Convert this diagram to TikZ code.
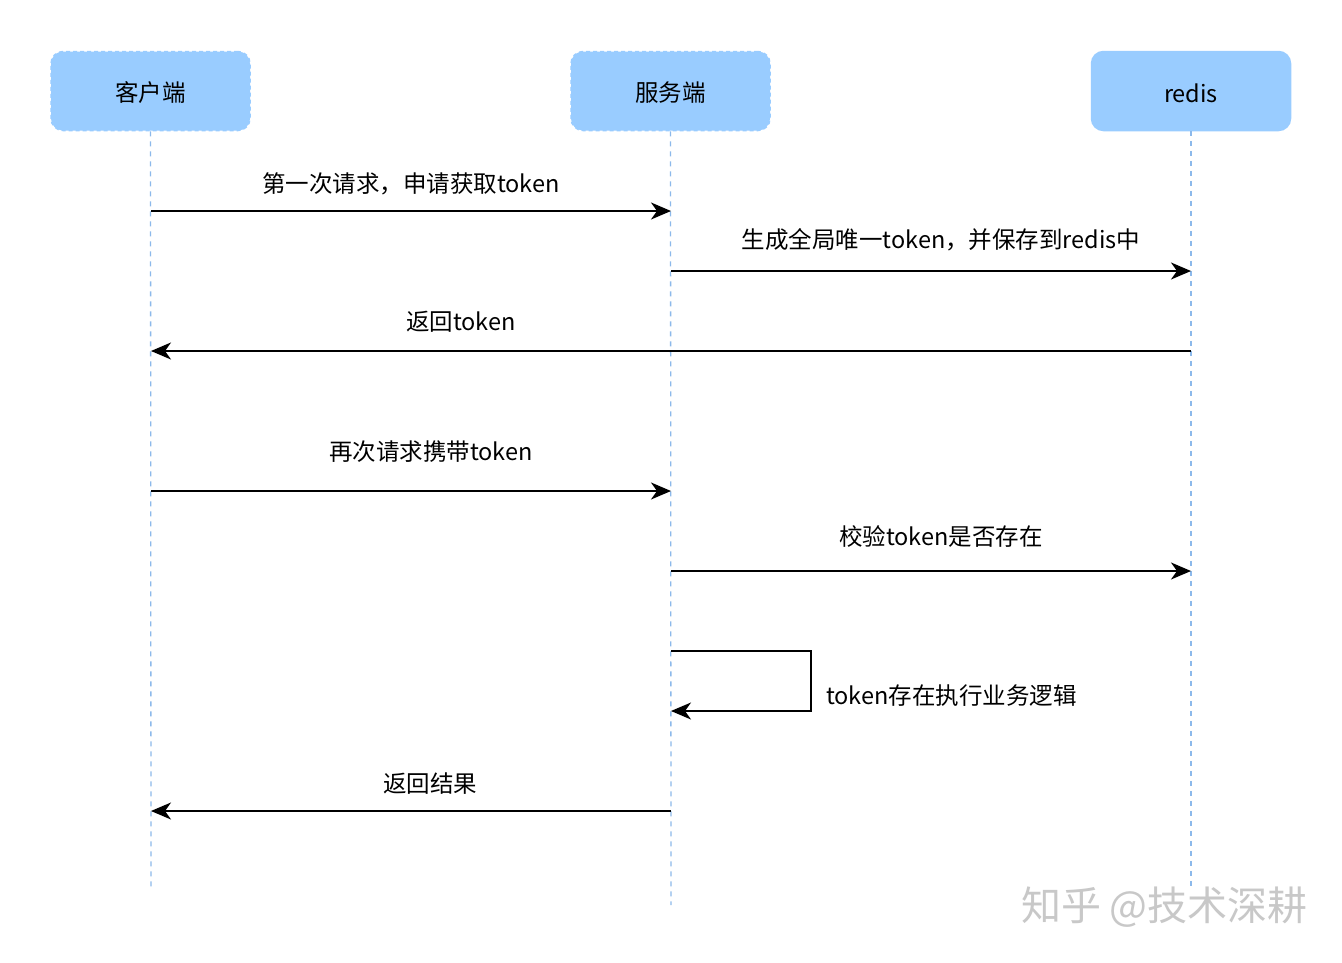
\documentclass[tikz,border=0pt]{standalone}
\usepackage{fontspec}
\setmainfont{Noto Sans CJK SC}
\usetikzlibrary{arrows.meta}
\definecolor{boxblue}{RGB}{153,204,255}
\definecolor{lifeblue}{RGB}{140,185,235}
\definecolor{wmgray}{RGB}{200,200,200}
\tikzset{
  actor/.style={draw=boxblue, fill=boxblue, rounded corners=12pt, minimum width=199pt, minimum height=79pt, font=\fontsize{23.5}{28}\selectfont, line width=1.5pt},
  dashedactor/.style={actor, dashed, dash pattern=on 4pt off 3pt},
  actorlbl/.style={font=\fontsize{23.5}{28}\selectfont, inner sep=0pt},
  lifeline/.style={draw=lifeblue, line width=1.3pt, dash pattern=on 5pt off 5pt},
  msg/.style={draw=black, line width=1.7pt, -{Stealth[length=20pt,width=17pt,inset=6pt]}},
  lbl/.style={font=\fontsize{23.5}{28}\selectfont, inner sep=0pt},
}
\begin{document}
\begin{tikzpicture}[x=1pt,y=-1pt]
\useasboundingbox (0,0) rectangle (1342,962);
\fill[white] (0,0) rectangle (1342,962);
% actors
\node[dashedactor] (c) at (150.5,91) {};
\node[dashedactor] (s) at (670.5,91) {};
\node[actor] (r) at (1191,91) {};
\node[actorlbl] (ct) at (150.5,93) {客户端};
\node[actorlbl] (st) at (670.5,93) {服务端};
\node[actorlbl] (rt) at (1191,93) {redis};
% lifeline ends
\coordinate (cend) at (151,890);
\coordinate (send) at (671,905);
\coordinate (rend) at (1191,890);
\draw[lifeline] (c.south) -- (cend);
\draw[lifeline] (s.south) -- (send);
\draw[lifeline] (r.south) -- (rend);
% message points
\coordinate (c1) at (151,211); \coordinate (s1) at (671,211);
\coordinate (s2) at (671,271); \coordinate (r2) at (1191,271);
\coordinate (r3) at (1191,351); \coordinate (c3) at (151,351);
\coordinate (c4) at (151,491); \coordinate (s4) at (671,491);
\coordinate (s5) at (671,571); \coordinate (r5) at (1191,571);
\coordinate (s6a) at (671,651); \coordinate (s6b) at (811,651);
\coordinate (s6c) at (811,711); \coordinate (s6d) at (671,711);
\coordinate (s7) at (671,811); \coordinate (c7) at (151,811);
\draw[msg] (c1) -- (s1);
\draw[msg] (s2) -- (r2);
\draw[msg] (r3) -- (c3);
\draw[msg] (c4) -- (s4);
\draw[msg] (s5) -- (r5);
\draw[msg] (s6a) -- (s6b) -- (s6c) -- (s6d);
\draw[msg] (s7) -- (c7);
% labels
\node[lbl] (l1) at (411,184) {第一次请求，申请获取token};
\node[lbl] (l2) at (941,240) {生成全局唯一token，并保存到redis中};
\node[lbl] (l3) at (461,322) {返回token};
\node[lbl] (l4) at (431,452) {再次请求携带token};
\node[lbl] (l5) at (941,536) {校验token是否存在};
\node[lbl, anchor=west] (l6) at (826,696) {token存在执行业务逻辑};
\node[lbl] (l7) at (430,784) {返回结果};
% watermark
\node[font=\fontsize{40}{46}\selectfont, text=wmgray, anchor=east, inner sep=0pt] (wm) at (1308,907) {知乎 @技术深耕};
\end{tikzpicture}
\end{document}
